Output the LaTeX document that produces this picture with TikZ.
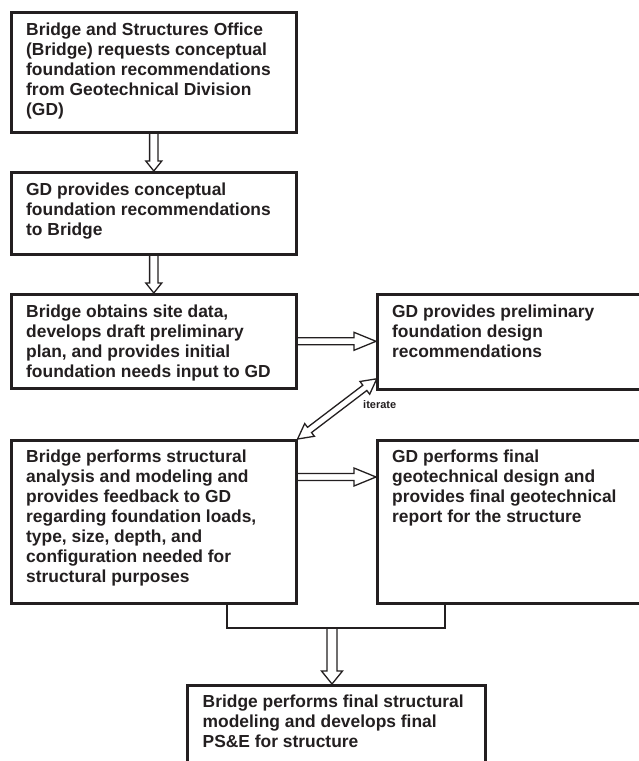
\documentclass[tikz,border=0pt]{standalone}
\usepackage{fontspec}
\setmainfont{Liberation Sans}
\usetikzlibrary{calc}
\definecolor{ink}{HTML}{231F20}
\tikzset{
  box/.style={draw=ink, line width=2.6pt, rectangle, anchor=north west, inner sep=0pt},
  txt/.style={anchor=north west, inner sep=0pt, align=left, text=ink,
    font=\fontsize{17.4}{20}\selectfont\bfseries},
  hollow/.style={draw=ink, line width=1.3pt, line join=miter},
  bracket/.style={draw=ink, line width=2.5pt},
  small/.style={text=ink, font=\fontsize{11}{13}\selectfont\bfseries, inner sep=0pt}
}
% single-headed hollow arrow: from, to, shaft half, head half, head length
\newcommand\HArrow[5]{%
  \draw[hollow] let \p1=(#1), \p2=(#2), \n1={atan2(\y2-\y1,\x2-\x1)},
    \n2={veclen(\x2-\x1,\y2-\y1)} in [shift={(\p1)}, rotate=\n1]
    (0,#3) -- (\n2-#5,#3) -- (\n2-#5,#4) -- (\n2,0) -- (\n2-#5,-#4)
    -- (\n2-#5,-#3) -- (0,-#3);}
% double-headed hollow arrow
\newcommand\DArrow[5]{%
  \draw[hollow] let \p1=(#1), \p2=(#2), \n1={atan2(\y2-\y1,\x2-\x1)},
    \n2={veclen(\x2-\x1,\y2-\y1)} in [shift={(\p1)}, rotate=\n1]
    (0,0) -- (#5,#4) -- (#5,#3) -- (\n2-#5,#3) -- (\n2-#5,#4) -- (\n2,0)
    -- (\n2-#5,-#4) -- (\n2-#5,-#3) -- (#5,-#3) -- (#5,-#4) -- cycle;}
\begin{document}
\begin{tikzpicture}[x=1pt,y=1pt]
\clip (0,0) rectangle (639,-761);
\fill[white] (0,0) rectangle (639,-761);

\node[box, minimum width=285, minimum height=120] (b1) at (10,-11) {};
\node[box, minimum width=285, minimum height=82]  (b2) at (10,-171) {};
\node[box, minimum width=285, minimum height=94]  (b3) at (10,-293) {};
\node[box, minimum width=275, minimum height=95]  (b4) at (376,-293) {};
\node[box, minimum width=285, minimum height=163] (b5) at (10,-439) {};
\node[box, minimum width=275, minimum height=163] (b6) at (376,-439) {};
\node[box, minimum width=298, minimum height=100] (b7) at (186,-684) {};

\node[txt] (t1) at ($(b1.north west)+(16,-11.8)$) {Bridge and Structures Office\\(Bridge) requests conceptual\\foundation recommendations\\from Geotechnical Division\\(GD)};
\node[txt] (t2) at ($(b2.north west)+(16,-11.5)$) {GD provides conceptual\\foundation recommendations\\to Bridge};
\node[txt] (t3) at ($(b3.north west)+(16,-11.5)$) {Bridge obtains site data,\\develops draft preliminary\\plan, and provides initial\\foundation needs input to GD};
\node[txt] (t4) at ($(b4.north west)+(16,-11.5)$) {GD provides preliminary\\foundation design\\recommendations};
\node[txt] (t5) at ($(b5.north west)+(16,-11)$) {Bridge performs structural\\analysis and modeling and\\provides feedback to GD\\regarding foundation loads,\\type, size, depth, and\\configuration needed for\\structural purposes};
\node[txt] (t6) at ($(b6.north west)+(16,-11)$) {GD performs final\\geotechnical design and\\provides final geotechnical\\report for the structure};
\node[txt] (t7) at ($(b7.north west)+(16.5,-10.3)$) {Bridge performs final structural\\modeling and develops final\\PS\&E for structure};

% vertical arrows
\coordinate (a1s) at (b1.south);
\HArrow{a1s}{a1s |- b2.north}{4.2}{8}{10}
\coordinate (a2s) at (b2.south);
\HArrow{a2s}{a2s |- b3.north}{4.2}{8}{10}
% horizontal arrows
\HArrow{b3.east}{b4.west |- b3.east}{3.5}{9}{22}
\coordinate (a4s) at ($(b5.north east)+(0,-38)$);
\HArrow{a4s}{b6.west |- a4s}{3.5}{9}{22}
% iterate
\coordinate (it) at ($(b4.south west)+(1,12)$);
\DArrow{b5.north east}{it}{3.3}{8}{15}
\node[small, anchor=west] (lab) at ($(b4.south west)+(-13,-14)$) {iterate};
% bracket
\coordinate (jl) at ($(b5.south west)+(217,0)$);
\coordinate (jr) at ($(b6.south west)+(69,0)$);
\coordinate (jm) at (332,-628);
\draw[bracket] (jl) |- (jm) -| (jr);
\HArrow{jm}{jm |- b7.north}{5}{10.5}{13}
\end{tikzpicture}
\end{document}
